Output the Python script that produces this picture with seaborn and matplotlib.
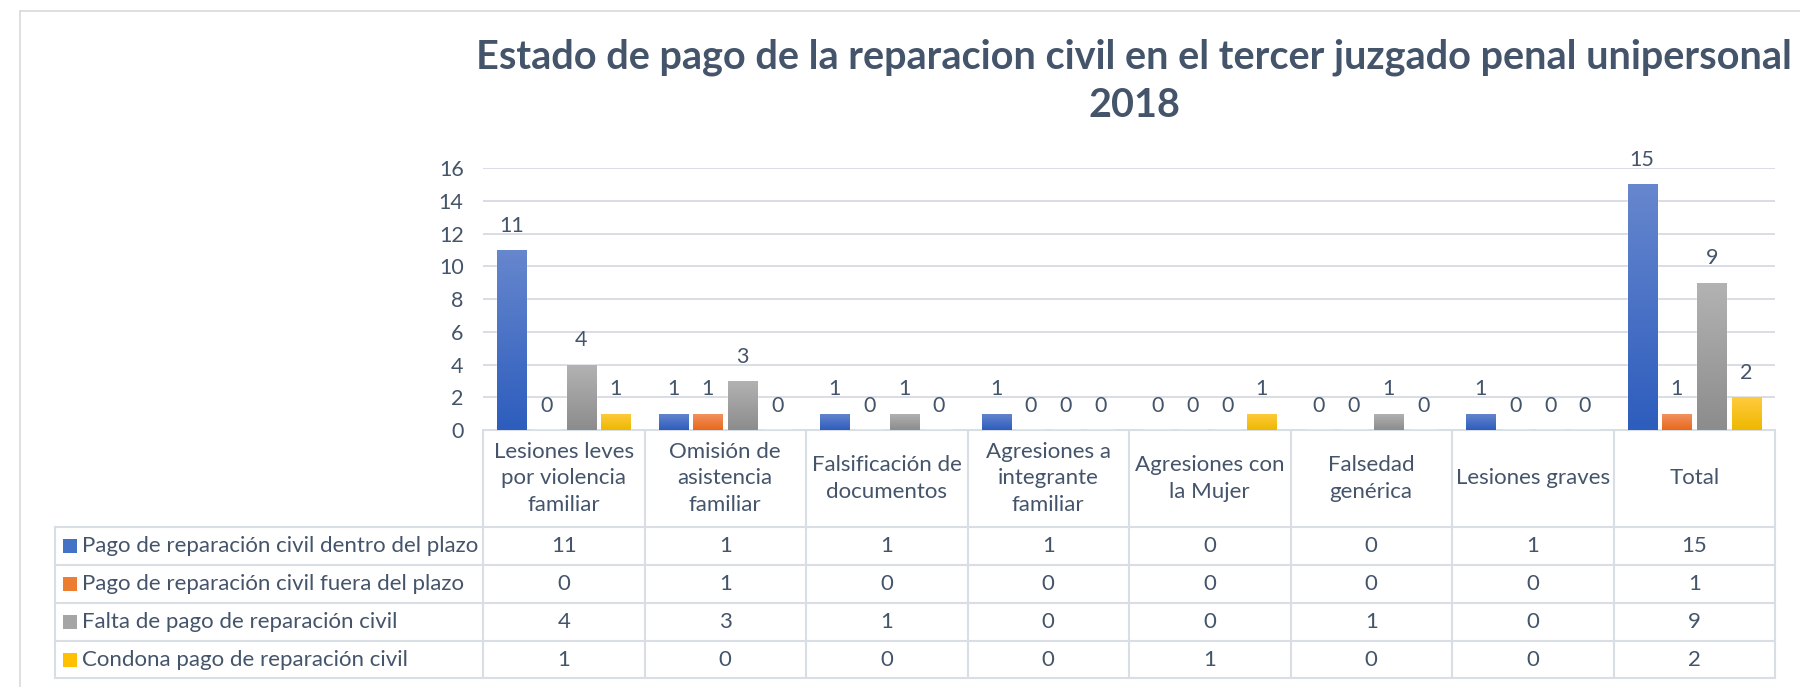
import numpy as np
import pandas as pd
import matplotlib
matplotlib.use("Agg")
import matplotlib.pyplot as plt
import seaborn as sns
from matplotlib.colors import LinearSegmentedColormap
from matplotlib.lines import Line2D
from matplotlib.patches import Rectangle

# ---------------- data ----------------
categories = [
    "Lesiones leves\npor violencia\nfamiliar",
    "Omisión de\nasistencia\nfamiliar",
    "Falsificación de\ndocumentos",
    "Agresiones a\nintegrante\nfamiliar",
    "Agresiones con\nla Mujer",
    "Falsedad\ngenérica",
    "Lesiones graves",
    "Total",
]
series_names = [
    "Pago de reparación civil dentro del plazo",
    "Pago de reparación civil fuera del plazo",
    "Falta de pago de reparación civil",
    "Condona pago de reparación civil",
]
dentro_plazo = [11, 1, 1, 1, 0, 0, 1, 15]
fuera_plazo = [0, 1, 0, 0, 0, 0, 0, 1]
falta_pago = [4, 3, 1, 0, 0, 1, 0, 9]
condona_pago = [1, 0, 0, 0, 1, 0, 0, 2]
series_values = [dentro_plazo, fuera_plazo, falta_pago, condona_pago]
y_ticks = [0, 2, 4, 6, 8, 10, 12, 14, 16]
title = "Estado de pago de la reparacion civil en el tercer juzgado penal unipersonal\n2018"

# ---------------- style ----------------
base_colors = ["#4472C4", "#ED7D31", "#A5A5A5", "#FFC000"]
grad_colors = [("#6787CE", "#2D5DBD"), ("#F29463", "#E8681C"),
               ("#B3B3B3", "#8C8C8C"), ("#FFCB3D", "#EEB800")]
TXT = "#44546A"
LINE = "#D9DEE4"
FONT = "Lato"

W, H = 1800, 687
DPI = 100
ax_left, ax_right = 483, 1775
y0_px, y16_px = 430, 168
table_left = 55
row_edges = [527, 565, 603, 641, 678]

df = pd.DataFrame(
    [(c, s, v) for s, vals in zip(series_names, series_values) for c, v in zip(categories, vals)],
    columns=["categoria", "serie", "valor"],
)

sns.set_theme(style="white")
plt.rcParams["font.family"] = [FONT, "DejaVu Sans"]

fig = plt.figure(figsize=(W / DPI, H / DPI), dpi=DPI)
fig.patch.set_facecolor("white")

ax = fig.add_axes([ax_left / W, 1 - y0_px / H, (ax_right - ax_left) / W, (y0_px - y16_px) / H])
sns.barplot(data=df, x="categoria", y="valor", hue="serie", order=categories,
            hue_order=series_names, palette=base_colors, width=0.862, gap=0.165,
            errorbar=None, legend=False, ax=ax, zorder=3)

ax.set_xlim(-0.5, len(categories) - 0.5)
ax.set_ylim(0, 16)

# gradient fill of each bar
for cont, (ctop, cbot) in zip(ax.containers, grad_colors):
    cmap = LinearSegmentedColormap.from_list("g", [ctop, cbot])
    for p in cont:
        x, w, h = p.get_x(), p.get_width(), p.get_height()
        if h <= 0:
            continue
        grad = np.linspace(0, 1, 256)[:, None]
        im = ax.imshow(grad, extent=[x, x + w, 0, h], origin="upper", cmap=cmap,
                       aspect="auto", zorder=3.5, interpolation="bilinear")
        im.set_clip_path(p)
ax.set_xlim(-0.5, len(categories) - 0.5)
ax.set_ylim(0, 16)

# data labels
for cont in ax.containers:
    for p, v in zip(cont, cont.datavalues):
        ax.annotate(f"{int(v)}", (p.get_x() + p.get_width() / 2, p.get_height()),
                    xytext=(0, 17.5), textcoords="offset points", ha="center",
                    va="center", fontsize=15.5, color=TXT, family=[FONT, "DejaVu Sans"],
                    annotation_clip=False)

ax.set_yticks(y_ticks)
ax.set_yticklabels([str(t) for t in y_ticks], fontsize=15.5, color=TXT)
ax.tick_params(axis="y", length=0, pad=14)
ax.set_xticks(range(len(categories)))
ax.set_xticklabels([""] * len(categories))
ax.tick_params(axis="x", length=0)
ax.set_xlabel("")
ax.set_ylabel("")
ax.grid(axis="y", color=LINE, lw=1.4, zorder=0)
ax.set_axisbelow(True)
for s in ax.spines.values():
    s.set_visible(False)

# ---------------- overlay for title, table and border ----------------
ov = fig.add_axes([0, 0, 1, 1], zorder=-1)
ov.set_xlim(0, W)
ov.set_ylim(H, 0)
ov.axis("off")
ov.patch.set_alpha(0)

# chart border (top and left visible)
ov.add_line(Line2D([20, W], [11, 11], color="#D9D9D9", lw=1.2))
ov.add_line(Line2D([20, 20], [11, H], color="#D9D9D9", lw=1.2))

ov.text(1134, 81, title, ha="center", va="center", fontsize=28.5, fontweight="bold",
        color=TXT, linespacing=1.38)

ncat = len(categories)
colw = (ax_right - ax_left) / ncat
col_edges = [ax_left + i * colw for i in range(ncat + 1)]

# table lines
ov.add_line(Line2D([ax_left, ax_right], [y0_px, y0_px], color=LINE, lw=1.5, zorder=5))
for xe in col_edges:
    ov.add_line(Line2D([xe, xe], [y0_px, row_edges[-1]], color=LINE, lw=1.5))
for ye in row_edges:
    ov.add_line(Line2D([table_left, ax_right], [ye, ye], color=LINE, lw=1.5))
ov.add_line(Line2D([table_left, table_left], [row_edges[0], row_edges[-1]], color=LINE, lw=1.5))

# header labels
for i, c in enumerate(categories):
    ov.text(ax_left + (i + 0.5) * colw, (y0_px + row_edges[0]) / 2, c, ha="center",
            va="center", fontsize=16, color=TXT, linespacing=1.42)

# rows
for r, (name, vals) in enumerate(zip(series_names, series_values)):
    yc = (row_edges[r] + row_edges[r + 1]) / 2
    ov.add_patch(Rectangle((63, yc - 7), 14, 14, color=base_colors[r], lw=0))
    ov.text(82, yc, name, ha="left", va="center", fontsize=16, color=TXT)
    for i, v in enumerate(vals):
        ov.text(ax_left + (i + 0.5) * colw, yc, str(v), ha="center", va="center",
                fontsize=16, color=TXT)

fig.savefig("out.png", dpi=DPI, facecolor="white")
